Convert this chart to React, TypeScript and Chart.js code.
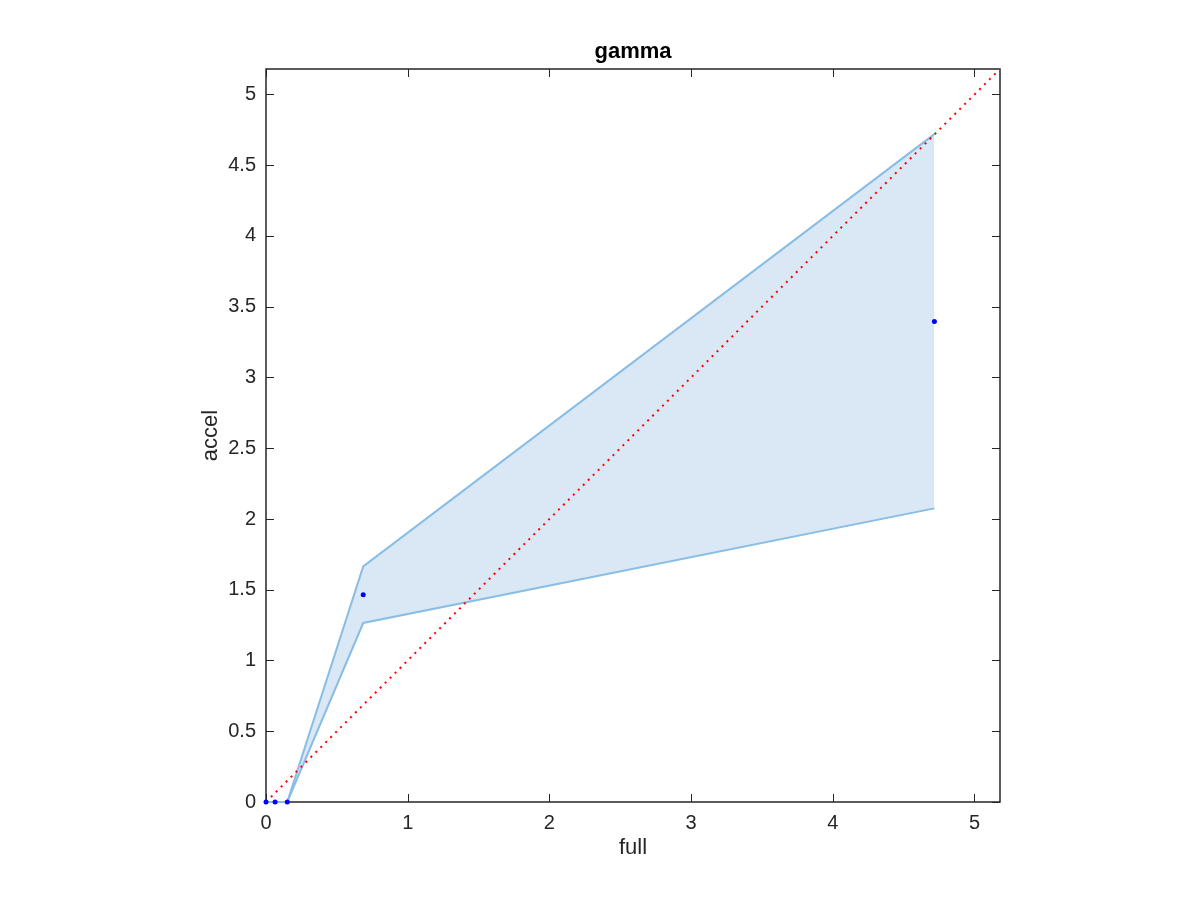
import React, { useEffect, useRef } from "react";
import { Chart, registerables } from "chart.js";

Chart.register(...registerables);

const AXIS_MAX = 5.18;
const xTickValues = [0, 1, 2, 3, 4, 5];
const yTickValues = [0, 0.5, 1, 1.5, 2, 2.5, 3, 3.5, 4, 4.5, 5];

const xFull = [0, 0.064, 0.15, 0.686, 4.717];
const upperBand = [0, 0, 0, 1.665, 4.72];
const lowerBand = [0, 0, 0, 1.265, 2.075];
const accelPoints = [0, 0, 0, 1.465, 3.395];
const diagonal = [0, AXIS_MAX];

const titleText = "gamma";
const xLabel = "full";
const yLabel = "accel";

const FONT = "'Liberation Sans', Arial, Helvetica, sans-serif";
const TEXT = "#262626";

const framePlugin = {
  id: "frame",
  beforeDatasetsDraw(chart: any) {
    const { ctx, chartArea } = chart;
    const { left, right, top, bottom } = chartArea;
    const xs = chart.scales.x;
    const ys = chart.scales.y;
    ctx.save();
    ctx.strokeStyle = TEXT;
    ctx.lineWidth = 1.5;
    ctx.beginPath();
    ctx.rect(left, top, right - left, bottom - top);
    ctx.stroke();
    ctx.lineWidth = 1;
    ctx.beginPath();
    const tl = 8;
    xTickValues.forEach((v) => {
      const px = Math.round(xs.getPixelForValue(v)) + 0.5;
      ctx.moveTo(px, bottom);
      ctx.lineTo(px, bottom - tl);
      ctx.moveTo(px, top);
      ctx.lineTo(px, top + tl);
    });
    yTickValues.forEach((v) => {
      const py = Math.round(ys.getPixelForValue(v)) + 0.5;
      ctx.moveTo(left, py);
      ctx.lineTo(left + tl, py);
      ctx.moveTo(right, py);
      ctx.lineTo(right - tl, py);
    });
    ctx.stroke();

    ctx.fillStyle = "#000";
    ctx.font = `bold 22px ${FONT}`;
    ctx.textAlign = "center";
    ctx.textBaseline = "middle";
    const cx = (left + right) / 2;
    ctx.fillText(titleText, cx, 52);

    ctx.fillStyle = TEXT;
    ctx.font = `22px ${FONT}`;
    ctx.fillText(xLabel, cx, 848);
    ctx.save();
    ctx.translate(211, (top + bottom) / 2);
    ctx.rotate(-Math.PI / 2);
    ctx.fillText(yLabel, 0, 0);
    ctx.restore();
    ctx.restore();
  },
};

export default function App() {
  const ref = useRef<HTMLCanvasElement | null>(null);
  useEffect(() => {
    if (!ref.current) return;
    const pts = (ys: number[]) => xFull.map((x, i) => ({ x, y: ys[i] }));
    const chart = new Chart(ref.current, {
      type: "scatter",
      data: {
        datasets: [
          {
            label: "points",
            data: pts(accelPoints),
            showLine: false,
            pointRadius: 2.5,
            pointBackgroundColor: "#0000ff",
            pointBorderWidth: 0,
            clip: false,
            order: 0,
          },
          {
            label: "diagonal",
            data: diagonal.map((v) => ({ x: v, y: v })),
            showLine: true,
            borderColor: "#ff0000",
            borderWidth: 2,
            borderDash: [2, 5],
            pointRadius: 0,
            fill: false,
            order: 1,
          },
          {
            label: "upper",
            data: pts(upperBand),
            showLine: true,
            borderColor: "#88bde6",
            borderWidth: 2,
            pointRadius: 0,
            backgroundColor: "#d9e8f4",
            fill: "+1",
            clip: false,
            order: 2,
          },
          {
            label: "lower",
            data: pts(lowerBand),
            showLine: true,
            borderColor: "#88bde6",
            borderWidth: 2,
            pointRadius: 0,
            fill: false,
            clip: false,
            order: 3,
          },
        ],
      },
      options: {
        animation: false,
        responsive: false,
        maintainAspectRatio: false,
        layout: { padding: { left: 0, top: 69, right: 200, bottom: 0 } },
        plugins: {
          legend: { display: false },
          title: { display: false },
          tooltip: { enabled: false },
          filler: { drawTime: "beforeDatasetsDraw" },
        },
        scales: {
          x: {
            type: "linear",
            min: 0,
            max: AXIS_MAX,
            afterFit: (s: any) => {
              s.height = 98;
            },
            afterBuildTicks: (s: any) => {
              s.ticks = xTickValues.map((v) => ({ value: v }));
            },
            grid: { display: false, drawTicks: false },
            border: { display: false },
            ticks: {
              padding: 9,
              color: TEXT,
              font: { family: FONT, size: 20 },
              callback: (v: any) => String(v),
            },
          },
          y: {
            type: "linear",
            min: 0,
            max: AXIS_MAX,
            afterFit: (s: any) => {
              s.width = 266;
            },
            afterBuildTicks: (s: any) => {
              s.ticks = yTickValues.map((v) => ({ value: v }));
            },
            grid: { display: false, drawTicks: false },
            border: { display: false },
            ticks: {
              padding: 10,
              color: TEXT,
              font: { family: FONT, size: 20 },
              callback: (v: any) => String(v),
            },
          },
        },
      },
      plugins: [framePlugin],
    });
    return () => chart.destroy();
  }, []);
  return (
    <div style={{ position: "absolute", left: 0, top: 0, width: 1200, height: 900, background: "#fff" }}>
      <canvas ref={ref} width={1200} height={900} style={{ width: 1200, height: 900 }} />
    </div>
  );
}
